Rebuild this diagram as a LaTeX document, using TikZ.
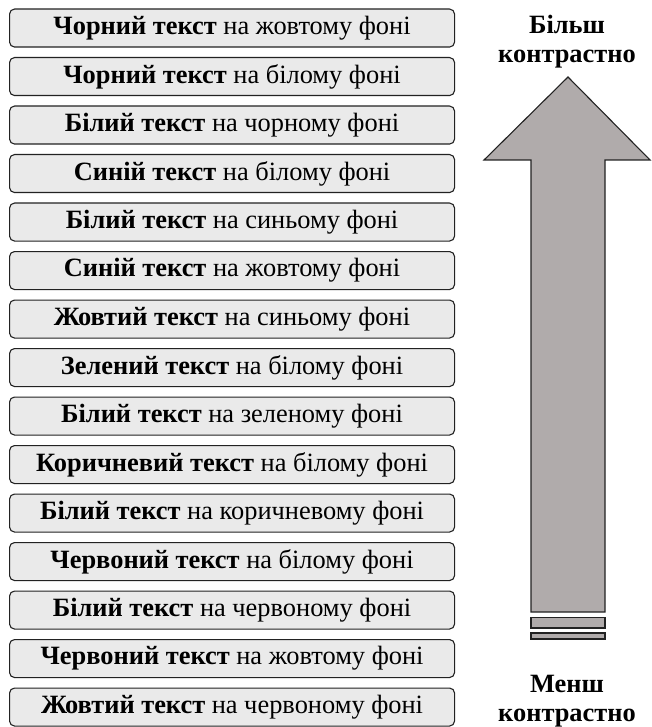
\documentclass[tikz,border=0pt]{standalone}
\usepackage{fontspec}
\setmainfont{Liberation Serif}
\definecolor{boxfill}{HTML}{EAEAEA}
\definecolor{arrowfill}{HTML}{B0ABAB}
\definecolor{edge}{HTML}{222222}
\begin{document}
\begin{tikzpicture}[x=1pt,y=-1pt,
  itembox/.style={draw=edge,line width=1.1pt,fill=boxfill,rounded corners=5pt,
    minimum width=445pt,minimum height=38pt,inner sep=0pt,anchor=north west,
    font=\fontsize{26.4}{30}\selectfont},
  sidelabel/.style={font=\fontsize{26.4}{29}\selectfont\bfseries,align=center,inner sep=0pt},
  arrowshape/.style={draw=edge,line width=1.1pt,fill=arrowfill,line join=miter}]
\useasboundingbox (0,0) rectangle (651,727);
\node[itembox] (b1)  at (9,8.5)   {\textbf{Чорний текст} на жовтому фоні};
\node[itembox] (b2)  at (9,57)    {\textbf{Чорний текст} на білому фоні};
\node[itembox] (b3)  at (9,105.5) {\textbf{Білий текст} на чорному фоні};
\node[itembox] (b4)  at (9,154)   {\textbf{Синій текст} на білому фоні};
\node[itembox] (b5)  at (9,202.5) {\textbf{Білий текст} на синьому фоні};
\node[itembox] (b6)  at (9,251)   {\textbf{Синій текст} на жовтому фоні};
\node[itembox] (b7)  at (9,299.5) {\textbf{Жовтий текст} на синьому фоні};
\node[itembox] (b8)  at (9,348)   {\textbf{Зелений текст} на білому фоні};
\node[itembox] (b9)  at (9,396.5) {\textbf{Білий текст} на зеленому фоні};
\node[itembox] (b10) at (9,445)   {\textbf{Коричневий текст} на білому фоні};
\node[itembox] (b11) at (9,493.5) {\textbf{Білий текст} на коричневому фоні};
\node[itembox] (b12) at (9,542)   {\textbf{Червоний текст} на білому фоні};
\node[itembox] (b13) at (9,590.5) {\textbf{Білий текст} на червоному фоні};
\node[itembox] (b14) at (9,639)   {\textbf{Червоний текст} на жовтому фоні};
\node[itembox] (b15) at (9,687.5) {\textbf{Жовтий текст} на червоному фоні};
% arrow
\draw[arrowshape] (568,77) -- (650,160) -- (605,160) -- (605,612) -- (531,612)
  -- (531,160) -- (484,160) -- cycle;
\draw[arrowshape] (531,617.5) rectangle (605,628);
\draw[arrowshape] (531,633) rectangle (605,639);
\node[sidelabel] (top) at (567,42) {Більш\\контрастно};
\node[sidelabel] (bot) at (567,701) {Менш\\контрастно};
\end{tikzpicture}
\end{document}
